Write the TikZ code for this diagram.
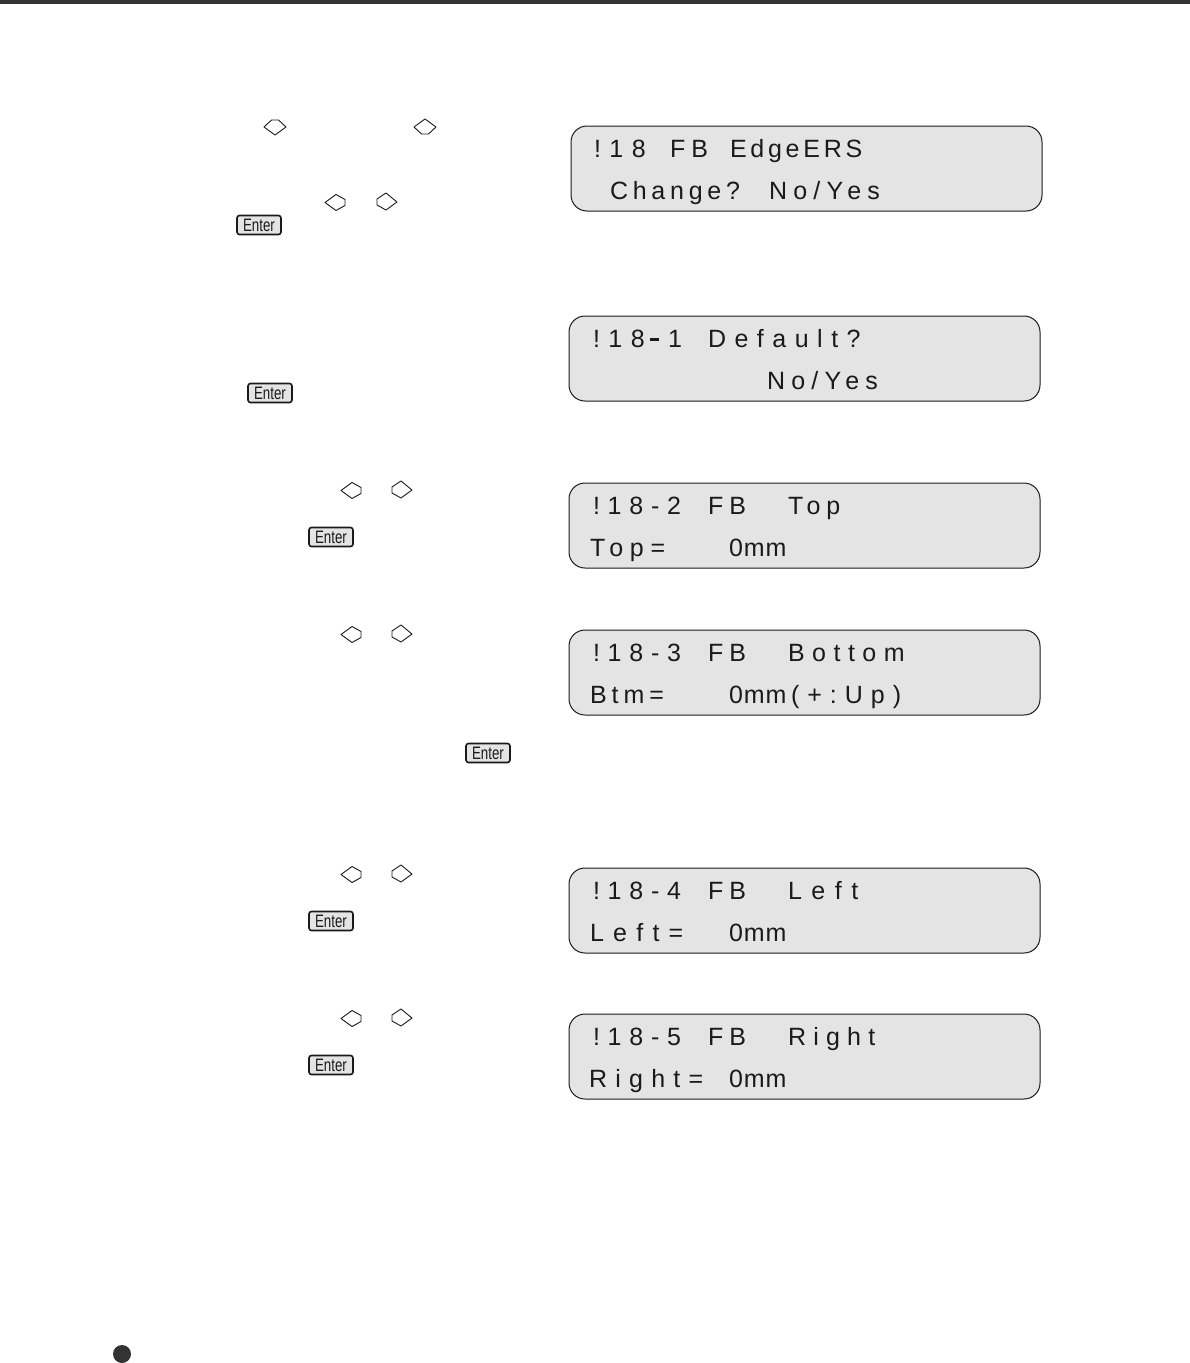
\documentclass[tikz,border=0pt]{standalone}
\usepackage{fontspec}
\setmainfont{Liberation Sans}
\definecolor{panel}{HTML}{E4E4E4}
\definecolor{ink}{HTML}{1A1A1A}
\newcommand{\lcdt}[5][33]{\node[lcdtext] (#2) at (#3,#4) {\addfontfeature{LetterSpace=#1}#5};}
\tikzset{
  x=1pt,y=-1pt,
  lcdpanel/.style={draw=ink,line width=1pt,fill=panel,rounded corners=16pt},
  lcdtext/.style={anchor=base west,inner sep=0pt,outer sep=0pt,text=ink,font=\fontsize{25}{25}\selectfont},
  enterkey/.style={draw=ink,line width=1.6pt,fill=panel,rounded corners=2.5pt,minimum width=44pt,minimum height=19pt,inner sep=0pt,text=ink,font=\fontsize{18}{18}\selectfont},
  keyline/.style={draw=ink,line width=0.9pt,line join=round},
  keyup/.pic={\draw[keyline] (-11,0)--(-3.5,-7)--(3.5,-7)--(11,0)--(0,8)--cycle;},
  keydown/.pic={\draw[keyline] (-11,0)--(0,-8)--(11,0)--(3.5,7)--(-3.5,7)--cycle;},
  keyleft/.pic={\draw[keyline] (-11,0)--(0,-8)--(9,-3)--(9,3)--(0,8)--cycle;},
  keyright/.pic={\draw[keyline] (-9,-3)--(0,-9)--(11,0)--(0,8)--(-9,3)--cycle;},
}
\begin{document}
\begin{tikzpicture}
\useasboundingbox (0,0) rectangle (1190,1363);
\fill[white] (0,0) rectangle (1190,1363);
\fill[black!80] (0,0) rectangle (1190,4);
% panels
\draw[lcdpanel] (571,126) rectangle (1042,211);
\draw[lcdpanel] (569,316) rectangle (1040,401);
\draw[lcdpanel] (569,483) rectangle (1040,568);
\draw[lcdpanel] (569,630) rectangle (1040,715);
\draw[lcdpanel] (569,868) rectangle (1040,953);
\draw[lcdpanel] (569,1014) rectangle (1040,1099);
% panel 1
\lcdt[34]{a1}{594}{157}{!18}\lcdt[24]{a2}{670}{157}{FB}\lcdt[15]{a3}{730}{157}{EdgeERS}
\lcdt[19]{a4}{610}{199}{Change?}\lcdt[25]{a5}{769}{199}{No/Yes}
% panel 2
\lcdt[34]{b1}{593}{347}{!18}\lcdt[0]{b2}{650}{347}{\rule[6pt]{9pt}{2.6pt}}\lcdt{b3}{668}{347}{1}\lcdt[34]{b4}{708}{347}{Default?}
\lcdt[25]{b5}{767}{389}{No/Yes}
% panel 3
\lcdt[31]{c1}{593}{514}{!18-2}\lcdt[24]{c2}{708}{514}{FB}\lcdt[24]{c3}{788}{514}{Top}
\lcdt[27]{c4}{590}{556}{Top=}\lcdt[4]{c5}{729}{556}{0mm}
% panel 4
\lcdt[31]{d1}{593}{661}{!18-3}\lcdt[24]{d2}{708}{661}{FB}\lcdt[30]{d3}{788}{661}{Bottom}
\lcdt[20]{d4}{590}{703}{Btm=}\lcdt[4]{d5}{729}{703}{0mm}\lcdt[32]{d6}{791}{703}{(+:Up)}
% panel 5
\lcdt[31]{e1}{593}{899}{!18-4}\lcdt[24]{e2}{708}{899}{FB}\lcdt[38]{e3}{788}{899}{Left}
\lcdt[37]{e4}{590}{941}{Left=}\lcdt[4]{e5}{729}{941}{0mm}
% panel 6
\lcdt[31]{f1}{593}{1045}{!18-5}\lcdt[24]{f2}{708}{1045}{FB}\lcdt[29]{f3}{788}{1045}{Right}
\lcdt[33]{f4}{589}{1087}{Right=}\lcdt[4]{f5}{729}{1087}{0mm}
% keys
\pic (k1) at (275,127) {keyup};
\pic (k2) at (425,127) {keydown};
\pic (k3) at (336,202.5) {keyleft};
\pic (k4) at (386,202) {keyright};
\pic (k5) at (352,490.5) {keyleft};
\pic (k6) at (401,490) {keyright};
\pic (k7) at (352,634.5) {keyleft};
\pic (k8) at (401,634) {keyright};
\pic (k9) at (352,874.5) {keyleft};
\pic (k10) at (401,874) {keyright};
\pic (k11) at (352,1018.5) {keyleft};
\pic (k12) at (401,1018) {keyright};
\node[enterkey] (n1) at (259,225) {\scalebox{0.74}[1]{Enter}};
\node[enterkey] (n2) at (270,393) {\scalebox{0.74}[1]{Enter}};
\node[enterkey] (n3) at (331,537) {\scalebox{0.74}[1]{Enter}};
\node[enterkey] (n4) at (488,753) {\scalebox{0.74}[1]{Enter}};
\node[enterkey] (n5) at (331,921) {\scalebox{0.74}[1]{Enter}};
\node[enterkey] (n6) at (331,1065) {\scalebox{0.74}[1]{Enter}};
\fill[black!80] (122,1354) circle (9);
\end{tikzpicture}
\end{document}
